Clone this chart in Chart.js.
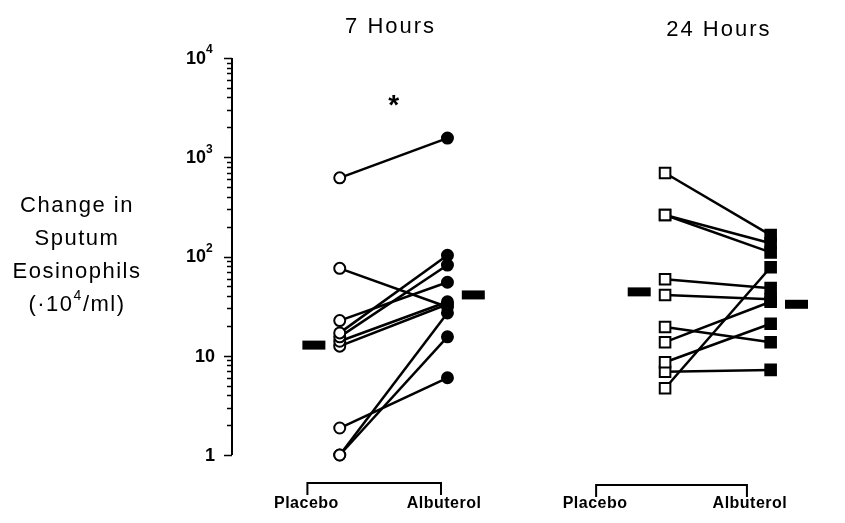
<!DOCTYPE html>
<html>
<head>
<meta charset="utf-8">
<script src="https://cdn.jsdelivr.net/npm/chart.js@4/dist/chart.umd.min.js"></script>
<style>
  body { margin: 0; background: #fff; }
  #wrap { width: 845px; height: 523px; position: relative; }
</style>
</head>
<body>
<div id="wrap"><canvas id="eosChart"></canvas></div>
<script>
// Sputum eosinophil change per subject, placebo vs albuterol
const panelTitles = ['7 Hours', '24 Hours'];
const groupLabels = ['Placebo', 'Albuterol'];
const yTickValues = [1, 10, 100, 1000, 10000];
const yTitleLines = ['Change in', 'Sputum', 'Eosinophils'];

const placebo7h   = [620, 76, 22.6, 17, 15.5, 14, 12.5, 1.87, 1.0, 1.0];
const albuterol7h = [1560, 31, 55, 103, 82, 35, 33, 6.0, 15.5, 27];
const placebo24h   = [694, 262, 262, 59, 41, 19.5, 13.7, 8.6, 6.9, 4.7];
const albuterol24h = [164, 136, 110, 48, 37, 13.7, 35, 21, 7.2, 78];

const means7h  = [12.8, 41];
const means24h = [44, 33];
const starValue7h = 3800;   // significance marker height

// x positions (scale units) of the placebo / albuterol columns
const cols7h  = [1, 2];
const cols24h = [4.02, 5];
const meanOffsets = [-0.24, 0.24];

const FONT = '"Liberation Sans", Arial, sans-serif';

function pairDatasets(pla, alb, cols, style, radius) {
    return pla.map((p, i) => ({
        data: [{ x: cols[0], y: p }, { x: cols[1], y: alb[i] }],
        borderColor: '#000',
        borderWidth: 2.5,
        pointStyle: style,
        pointRadius: radius,
        pointBorderWidth: 2,
        pointBorderColor: '#000',
        pointBackgroundColor: ['#fff', '#000'],
        clip: false
    }));
}

function meanDataset(means, cols) {
    return {
        data: means.map((m, i) => ({ x: cols[i] + meanOffsets[i], y: m })),
        showLine: false,
        pointStyle: 'line',
        pointRadius: 11.5,
        pointBorderWidth: 9,
        pointBorderColor: '#000',
        clip: false
    };
}

const datasets = [
    ...pairDatasets(placebo7h, albuterol7h, cols7h, 'circle', 5.5),
    ...pairDatasets(placebo24h, albuterol24h, cols24h, 'rect', 7.5),
    meanDataset(means7h, cols7h),
    meanDataset(means24h, cols24h)
];

function spaced(ctx, px) {
    if ('letterSpacing' in ctx) ctx.letterSpacing = px + 'px';
}

// axis, labels, titles and brackets drawn in the style of the printed figure
const paperAxes = {
    id: 'paperAxes',
    afterDraw(chart) {
        const { ctx, scales: { x, y } } = chart;
        ctx.save();
        ctx.strokeStyle = '#000';
        ctx.fillStyle = '#000';

        // y axis line
        const ax = x.getPixelForValue(0);
        ctx.lineWidth = 2;
        ctx.beginPath();
        ctx.moveTo(ax, y.getPixelForValue(1));
        ctx.lineTo(ax, y.getPixelForValue(10000));
        ctx.stroke();

        // log ticks
        ctx.lineWidth = 1.5;
        for (let d = 0; d < 4; d++) {
            for (let m = 1; m <= 9; m++) {
                const py = Math.round(y.getPixelForValue(m * Math.pow(10, d))) + 0.5;
                const len = m === 1 ? 8 : 5;
                ctx.beginPath();
                ctx.moveTo(ax - len, py);
                ctx.lineTo(ax, py);
                ctx.stroke();
            }
        }
        const topY = Math.round(y.getPixelForValue(10000)) + 0.5;
        ctx.beginPath();
        ctx.moveTo(ax - 8, topY);
        ctx.lineTo(ax, topY);
        ctx.stroke();

        // tick labels
        ctx.textBaseline = 'middle';
        yTickValues.forEach(v => {
            const py = y.getPixelForValue(v);
            const exp = Math.round(Math.log10(v));
            if (exp < 2) {
                ctx.font = 'bold 18px ' + FONT;
                ctx.textAlign = 'right';
                ctx.fillText(String(v), 215, py + 1);
            } else {
                ctx.font = 'bold 12px ' + FONT;
                ctx.textAlign = 'left';
                ctx.fillText(String(exp), 206, py - 8);
                ctx.font = 'bold 18px ' + FONT;
                ctx.textAlign = 'right';
                ctx.fillText('10', 206, py + 1);
            }
        });

        // y title
        spaced(ctx, 1.5);
        ctx.font = '22px ' + FONT;
        ctx.textAlign = 'center';
        const titleX = 77;
        yTitleLines.forEach((t, i) => ctx.fillText(t, titleX, 206 + i * 33));
        // unit line with superscript
        const lineY = 206 + 3 * 33;
        const parts = ['(·10', '4', '/ml)'];
        ctx.font = '22px ' + FONT;
        const w0 = ctx.measureText(parts[0]).width;
        const w2 = ctx.measureText(parts[2]).width;
        ctx.font = '14px ' + FONT;
        const w1 = ctx.measureText(parts[1]).width;
        const sx = titleX - (w0 + w1 + w2) / 2;
        ctx.textAlign = 'left';
        ctx.font = '22px ' + FONT;
        ctx.fillText(parts[0], sx, lineY);
        ctx.font = '14px ' + FONT;
        ctx.fillText(parts[1], sx + w0, lineY - 9);
        ctx.font = '22px ' + FONT;
        ctx.fillText(parts[2], sx + w0 + w1, lineY);

        // panel titles
        spaced(ctx, 2);
        ctx.font = '22px ' + FONT;
        ctx.textAlign = 'center';
        ctx.fillText(panelTitles[0], x.getPixelForValue((cols7h[0] + cols7h[1]) / 2) - 3, 27);
        ctx.fillText(panelTitles[1], x.getPixelForValue((cols24h[0] + cols24h[1]) / 2) + 1, 30);

        // significance star
        spaced(ctx, 0);
        ctx.font = 'bold 28px ' + FONT;
        ctx.fillText('*', x.getPixelForValue(1.5), y.getPixelForValue(starValue7h) + 7);

        // brackets under each panel
        const brackets = [
            { from: 0.70, to: 1.94, top: 483 },
            { from: 3.38, to: 4.78, top: 485 }
        ];
        ctx.lineWidth = 2;
        spaced(ctx, 0.5);
        ctx.font = 'bold 16px ' + FONT;
        brackets.forEach(b => {
            const x1 = x.getPixelForValue(b.from);
            const x2 = x.getPixelForValue(b.to);
            ctx.beginPath();
            ctx.moveTo(x1, b.top + 12);
            ctx.lineTo(x1, b.top);
            ctx.lineTo(x2, b.top);
            ctx.lineTo(x2, b.top + 12);
            ctx.stroke();
            ctx.fillText(groupLabels[0], x1 - 1, 504);
            ctx.fillText(groupLabels[1], x2 + 3, 504);
        });
        ctx.restore();
    }
};

new Chart(document.getElementById('eosChart'), {
    type: 'line',
    data: { datasets },
    options: {
        responsive: true,
        maintainAspectRatio: false,
        animation: false,
        layout: { padding: { left: 232, right: 19, top: 58, bottom: 68 } },
        plugins: { legend: { display: false }, tooltip: { enabled: false } },
        scales: {
            x: { type: 'linear', min: 0, max: 5.5, display: false },
            y: { type: 'logarithmic', min: 1, max: 10000, display: false }
        }
    },
    plugins: [paperAxes]
});
</script>
</body>
</html>
